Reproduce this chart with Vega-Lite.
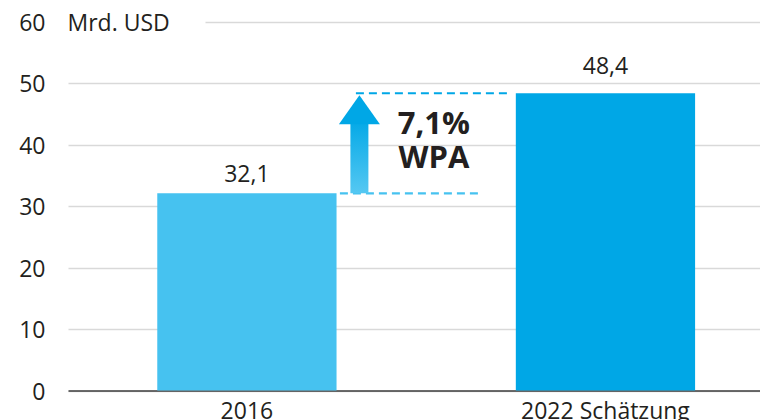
{
  "$schema": "https://vega.github.io/schema/vega-lite/v6.json",
  "width": 692,
  "height": 368.5,
  "autosize": {"type": "none"},
  "padding": {"left": 68, "top": 22, "right": 0, "bottom": 29.5},
  "background": "white",
  "config": {"view": {"stroke": null}, "font": "Open Sans"},
  "datasets": {
    "bars": [
      {"year": "2016", "value": 32.1, "label": "32,1"},
      {"year": "2022 Schätzung", "value": 48.4, "label": "48,4"}
    ],
    "growth": [
      {"from": 32.1, "to": 48.4, "text": ["7,1%", "WPA"]}
    ]
  },
  "layer": [
    {
      "data": {"name": "bars"},
      "mark": {"type": "bar"},
      "encoding": {
        "x": {
          "field": "year", "type": "nominal", "sort": null,
          "scale": {"type": "band", "paddingInner": 0.5, "paddingOuter": 0.215, "align": 0.579},
          "axis": {
            "title": null, "labelAngle": 0, "ticks": false, "domain": true,
            "domainColor": "#3c3c3c", "domainWidth": 1.6, "labelPadding": 9.5,
            "labelFontSize": 23, "labelColor": "#231F20", "labelFont": "Open Sans"
          }
        },
        "y": {
          "field": "value", "type": "quantitative",
          "scale": {"domain": [0, 60], "nice": false},
          "axis": {
            "values": [0, 10, 20, 30, 40, 50, 60],
            "ticks": false, "domain": false, "grid": true,
            "gridColor": "#d9d9d9", "gridWidth": 1.5,
            "gridDash": {"condition": {"test": "datum.value === 60", "value": [0, 137, 1000]}, "value": []},
            "labelPadding": 23, "labelFontSize": 23, "labelColor": "#231F20", "labelOffset": 1.5,
            "title": "Mrd. USD", "titleAngle": 0, "titleAlign": "left", "titleBaseline": "middle",
            "titleX": -1, "titleY": 1.5, "titleFontSize": 23, "titleFontWeight": "normal",
            "titleColor": "#231F20", "titleFont": "Open Sans"
          }
        },
        "color": {
          "field": "year", "type": "nominal",
          "scale": {"domain": ["2016", "2022 Schätzung"], "range": ["#46C2F0", "#00A7E6"]},
          "legend": null
        }
      }
    },
    {
      "data": {"name": "bars"},
      "transform": [{"filter": "datum.year === '2016'"}],
      "mark": {"type": "text", "baseline": "alphabetic", "dy": -11.5, "fontSize": 23, "color": "#231F20"},
      "encoding": {
        "x": {"field": "year", "type": "nominal"},
        "y": {"field": "value", "type": "quantitative"},
        "text": {"field": "label"}
      }
    },
    {
      "data": {"name": "bars"},
      "transform": [{"filter": "datum.year !== '2016'"}],
      "mark": {"type": "text", "baseline": "alphabetic", "dy": -19, "fontSize": 23, "color": "#231F20"},
      "encoding": {
        "x": {"field": "year", "type": "nominal"},
        "y": {"field": "value", "type": "quantitative"},
        "text": {"field": "label"}
      }
    },
    {
      "data": {"name": "growth"},
      "mark": {"type": "rule", "color": "#46C2F0", "strokeWidth": 2.2, "strokeDash": [8, 5], "xOffset": 93, "x2Offset": 231},
      "encoding": {
        "x": {"datum": "2016"},
        "x2": {"datum": "2016"},
        "y": {"field": "from", "type": "quantitative"}
      }
    },
    {
      "data": {"name": "growth"},
      "mark": {"type": "rule", "color": "#00A7E6", "strokeWidth": 2.2, "strokeDash": [8, 5], "xOffset": 109, "x2Offset": 261},
      "encoding": {
        "x": {"datum": "2016"},
        "x2": {"datum": "2016"},
        "y": {"field": "to", "type": "quantitative"}
      }
    },
    {
      "data": {"name": "growth"},
      "mark": {
        "type": "bar", "width": 18, "xOffset": 112.5,
        "fill": {"gradient": "linear", "x1": 0, "y1": 1, "x2": 0, "y2": 0,
          "stops": [{"offset": 0, "color": "#55C8F2"}, {"offset": 1, "color": "#00A7E6"}]}
      },
      "encoding": {
        "x": {"datum": "2016"},
        "y": {"field": "from", "type": "quantitative"},
        "y2": {"datum": 44.5}
      }
    },
    {
      "data": {"name": "growth"},
      "mark": {
        "type": "point", "filled": true, "opacity": 1, "strokeWidth": 0,
        "shape": "M0,0L1,1.41L-1,1.41Z", "size": 1681, "color": "#00A7E6",
        "xOffset": 112.5, "yOffset": 2
      },
      "encoding": {
        "x": {"datum": "2016"},
        "y": {"field": "to", "type": "quantitative"}
      }
    },
    {
      "data": {"name": "growth"},
      "mark": {
        "type": "text", "align": "center", "baseline": "middle", "fontSize": 31,
        "fontWeight": "bold", "lineHeight": 34, "color": "#231F20", "xOffset": 187
      },
      "encoding": {
        "x": {"datum": "2016"},
        "y": {"datum": 43.2},
        "text": {"field": "text"}
      }
    }
  ]
}
